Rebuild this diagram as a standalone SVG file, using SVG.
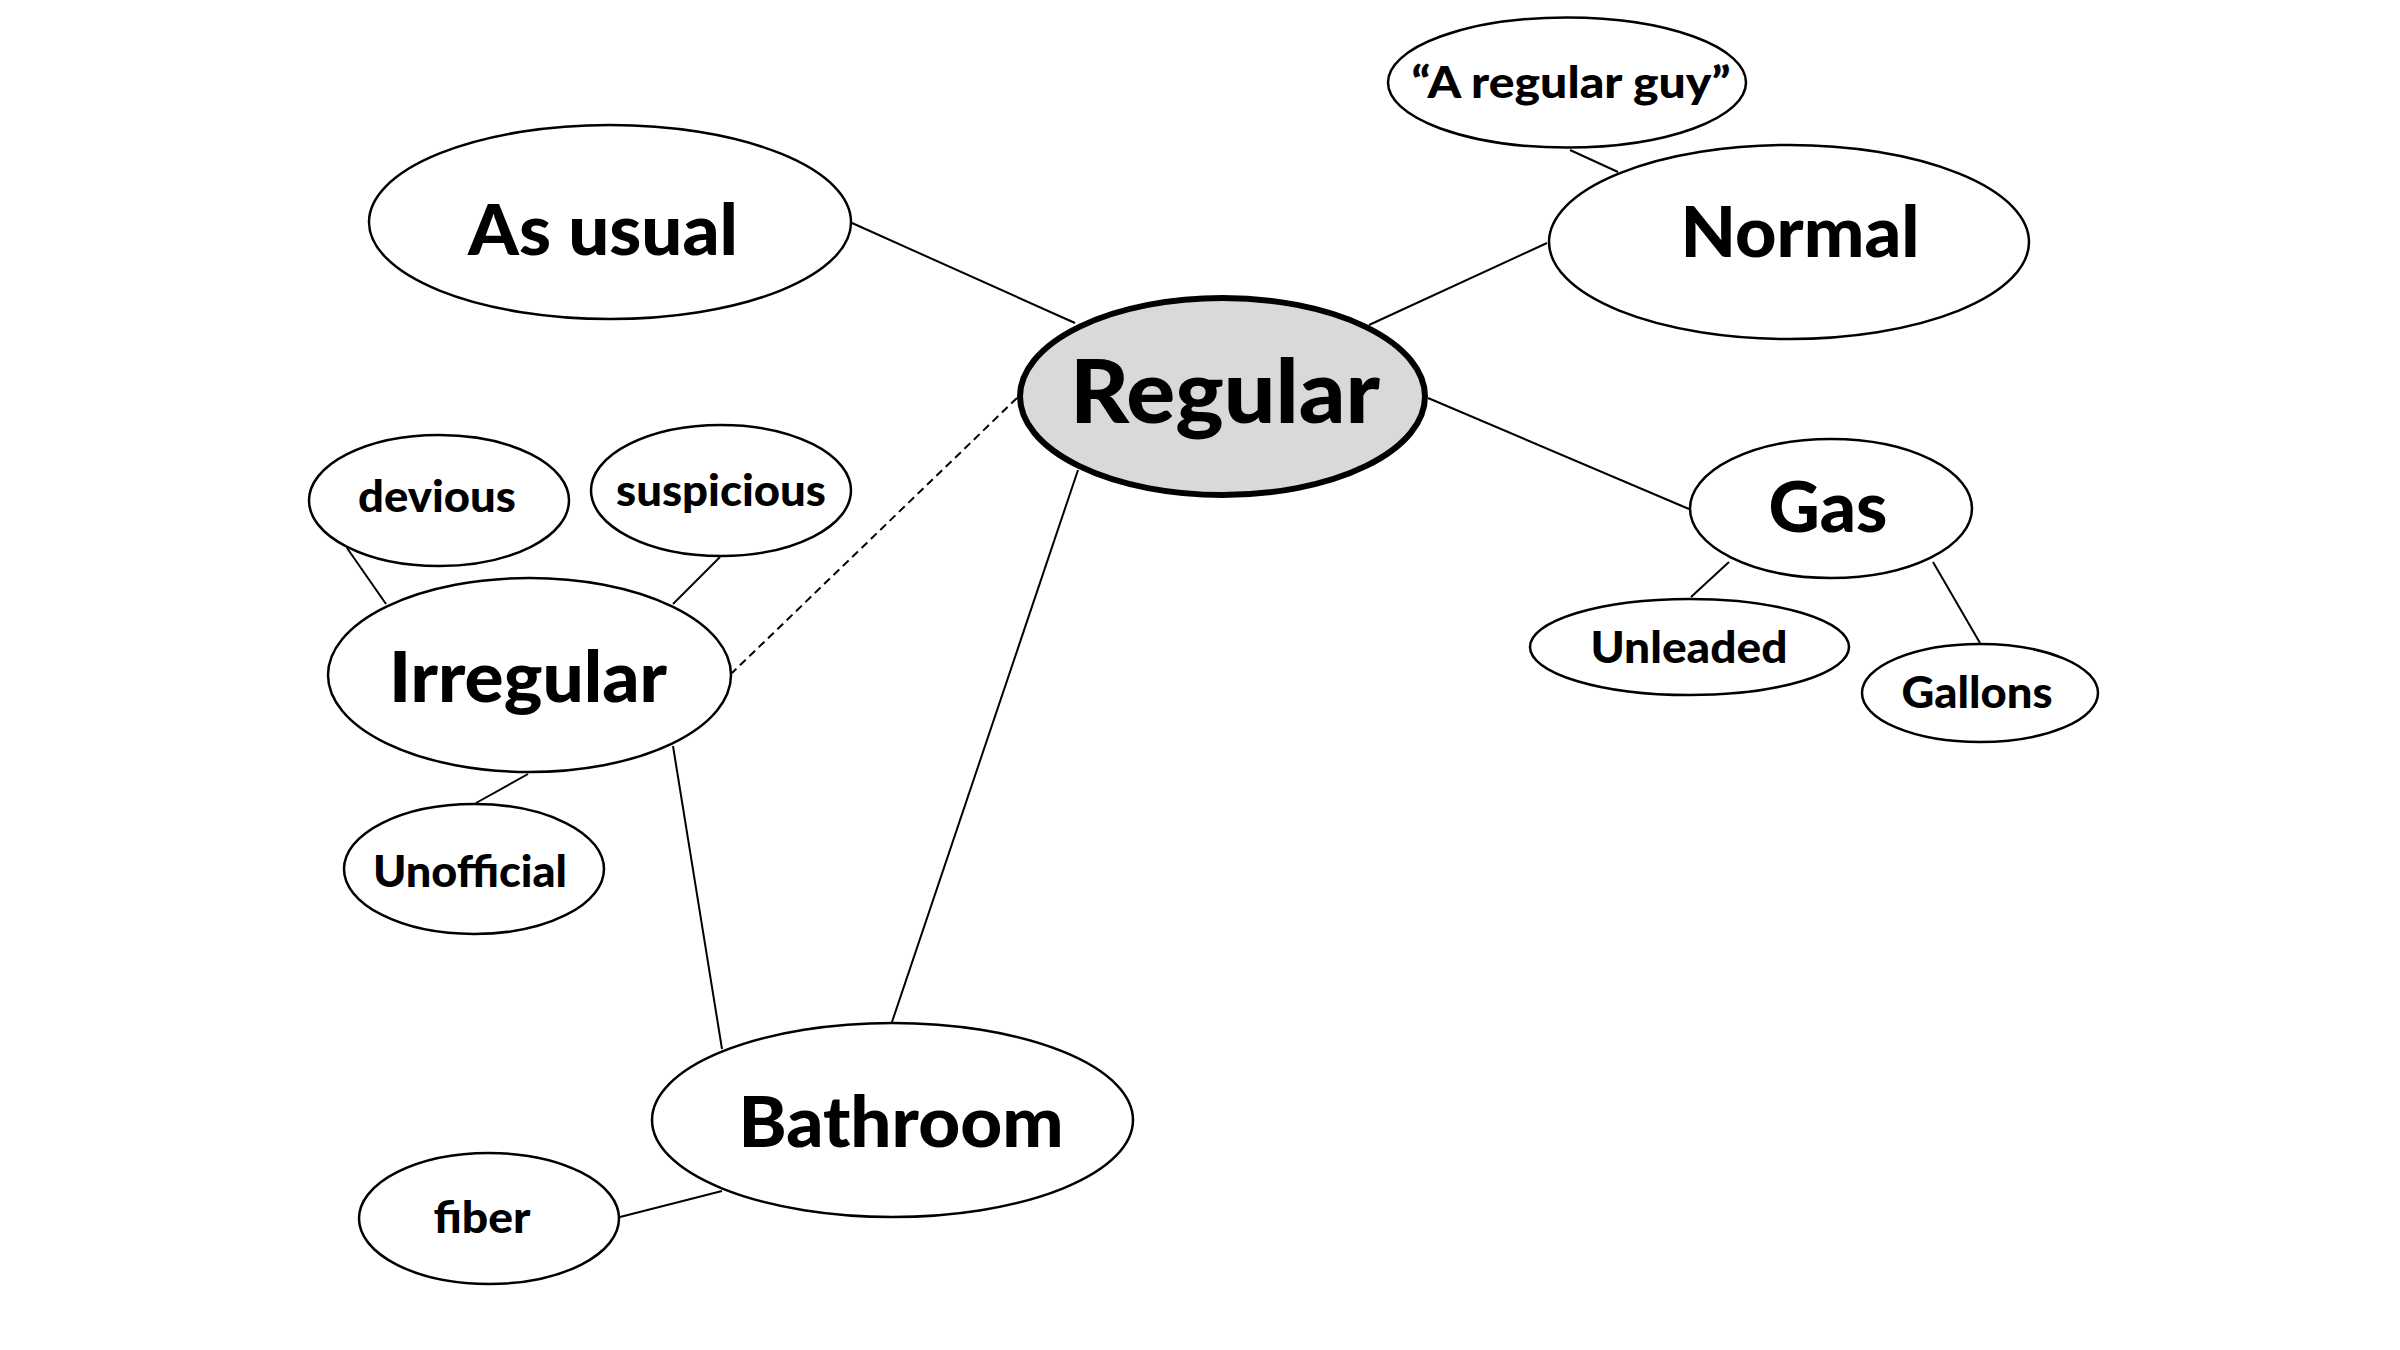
<svg xmlns="http://www.w3.org/2000/svg" width="2400" height="1350" viewBox="0 0 2400 1350">
<style>
.n ellipse{fill:#fff;stroke:#000;stroke-width:2.5}
#regular ellipse{fill:#d9d9d9;stroke:#000;stroke-width:6}
text{font-family:Lato,"Open Sans","Liberation Sans",sans-serif;font-weight:900;fill:#000;text-anchor:middle}
.big{font-size:70px}
.sm{font-size:43px}
.conn line{stroke:#000;stroke-width:2}
.conn .dash{stroke-dasharray:8 5}
</style>
<rect width="2400" height="1350" fill="#fff"/>
<g id="connectors" class="conn">
<line x1="852" y1="223" x2="1075" y2="323"/>
<line x1="1547" y1="243" x2="1369" y2="325"/>
<line x1="1570" y1="150" x2="1618" y2="172"/>
<line x1="1428" y1="398" x2="1689" y2="509"/>
<line x1="1729" y1="562" x2="1691" y2="597"/>
<line x1="1933" y1="562" x2="1980" y2="643"/>
<line class="dash" x1="1017" y1="398" x2="732" y2="673"/>
<line x1="347" y1="548" x2="386" y2="604"/>
<line x1="720" y1="557" x2="673" y2="604"/>
<line x1="528" y1="774" x2="476" y2="803"/>
<line x1="673" y1="746" x2="722" y2="1049"/>
<line x1="1078" y1="470" x2="892" y2="1022"/>
<line x1="722" y1="1191" x2="620" y2="1217"/>
</g>
<g id="regular"><ellipse cx="1222.5" cy="396.5" rx="202.5" ry="98.5"/><text x="1225" y="423" font-size="88" textLength="310" lengthAdjust="spacingAndGlyphs">Regular</text></g>
<g id="as-usual" class="n"><ellipse cx="610" cy="222" rx="241" ry="97"/><text class="big" x="603" y="255" textLength="270" lengthAdjust="spacingAndGlyphs">As usual</text></g>
<g id="normal" class="n"><ellipse cx="1789" cy="242" rx="240" ry="97"/><text class="big" x="1800" y="257" textLength="239" lengthAdjust="spacingAndGlyphs">Normal</text></g>
<g id="regular-guy" class="n"><ellipse cx="1567" cy="82.5" rx="179" ry="65"/><text class="sm" x="1571" y="98" textLength="319" lengthAdjust="spacingAndGlyphs">“A regular guy”</text></g>
<g id="gas" class="n"><ellipse cx="1831" cy="508.5" rx="141" ry="69.5"/><text class="big" x="1828" y="532" textLength="119" lengthAdjust="spacingAndGlyphs">Gas</text></g>
<g id="unleaded" class="n"><ellipse cx="1689.5" cy="647" rx="159.5" ry="48"/><text class="sm" x="1689" y="663" textLength="197" lengthAdjust="spacingAndGlyphs">Unleaded</text></g>
<g id="gallons" class="n"><ellipse cx="1980" cy="693" rx="118" ry="49"/><text class="sm" x="1977" y="708" textLength="151" lengthAdjust="spacingAndGlyphs">Gallons</text></g>
<g id="irregular" class="n"><ellipse cx="529.5" cy="675" rx="201.5" ry="97"/><text class="big" x="528" y="702" textLength="278" lengthAdjust="spacingAndGlyphs">Irregular</text></g>
<g id="devious" class="n"><ellipse cx="439" cy="500.5" rx="130" ry="65.5"/><text class="sm" x="437" y="512" textLength="158" lengthAdjust="spacingAndGlyphs">devious</text></g>
<g id="suspicious" class="n"><ellipse cx="721" cy="490.5" rx="130" ry="65.5"/><text class="sm" x="721" y="506" textLength="210" lengthAdjust="spacingAndGlyphs">suspicious</text></g>
<g id="unofficial" class="n"><ellipse cx="474" cy="869" rx="130" ry="65"/><text class="sm" x="470" y="887" textLength="194" lengthAdjust="spacingAndGlyphs">Unofficial</text></g>
<g id="bathroom" class="n"><ellipse cx="892.5" cy="1120" rx="240.5" ry="97"/><text class="big" x="901" y="1147" textLength="325" lengthAdjust="spacingAndGlyphs">Bathroom</text></g>
<g id="fiber" class="n"><ellipse cx="489" cy="1218.5" rx="130" ry="65.5"/><text class="sm" x="482" y="1233" textLength="97" lengthAdjust="spacingAndGlyphs">fiber</text></g>
</svg>
